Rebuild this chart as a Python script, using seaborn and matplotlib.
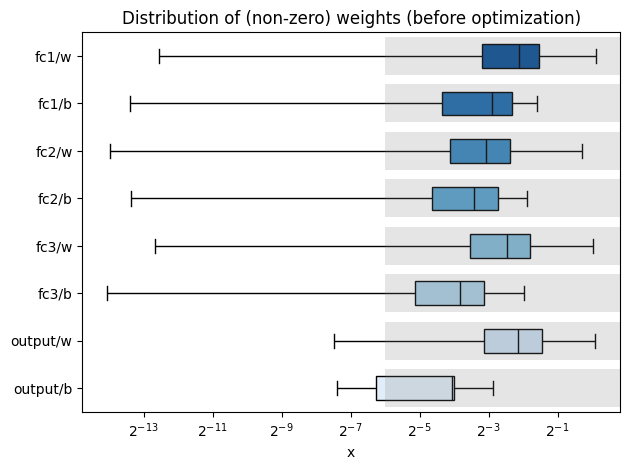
import numpy as np
import pandas as pd
import seaborn as sns
import matplotlib
matplotlib.use("Agg")
import matplotlib.pyplot as plt
from matplotlib.patches import Rectangle

# layer names (top to bottom)
layers = ["fc1/w", "fc1/b", "fc2/w", "fc2/b", "fc3/w", "fc3/b", "output/w", "output/b"]
# summary values, as log2 exponents
whisk_lo = [-12.54, -13.40, -13.98, -13.36, -12.68, -14.07, -7.48, -7.39]
q1       = [-3.20, -4.35, -4.13, -4.65, -3.54, -5.13, -3.14, -6.27]
median   = [-2.12, -2.90, -3.08, -3.42, -2.46, -3.83, -2.14, -4.05]
q3       = [-1.54, -2.32, -2.38, -2.73, -1.80, -3.14, -1.46, -4.01]
whisk_hi = [0.10, -1.60, -0.28, -1.88, 0.03, -1.96, 0.07, -2.86]
threshold_exp = -6

rows = []
for i, name in enumerate(layers):
    for v in (whisk_lo[i], q1[i], median[i], q3[i], whisk_hi[i]):
        rows.append({"layer": name, "x": 2.0 ** v})
df = pd.DataFrame(rows)

fig, ax = plt.subplots(figsize=(6.3, 4.7), dpi=100)
sns.boxplot(data=df, x="x", y="layer", hue="layer", palette="Blues_r",
            saturation=1, width=0.5, whis=(0, 100), log_scale=2,
            linecolor="black", linewidth=1, legend=False, ax=ax,
            capwidths=0.3)

xlim = ax.get_xlim()
for i in range(len(layers)):
    ax.add_patch(Rectangle((2.0 ** threshold_exp, i - 0.4),
                           xlim[1] - 2.0 ** threshold_exp, 0.8,
                           facecolor="gray", alpha=0.2, lw=0, zorder=5))
ax.set_xlim(xlim)
ax.set_ylabel("")
ax.set_xlabel("x")
ax.set_title("Distribution of (non-zero) weights (before optimization)")
fig.subplots_adjust(left=0.1306, right=0.9841, top=0.9313, bottom=0.1234)
fig.savefig("out.png")
